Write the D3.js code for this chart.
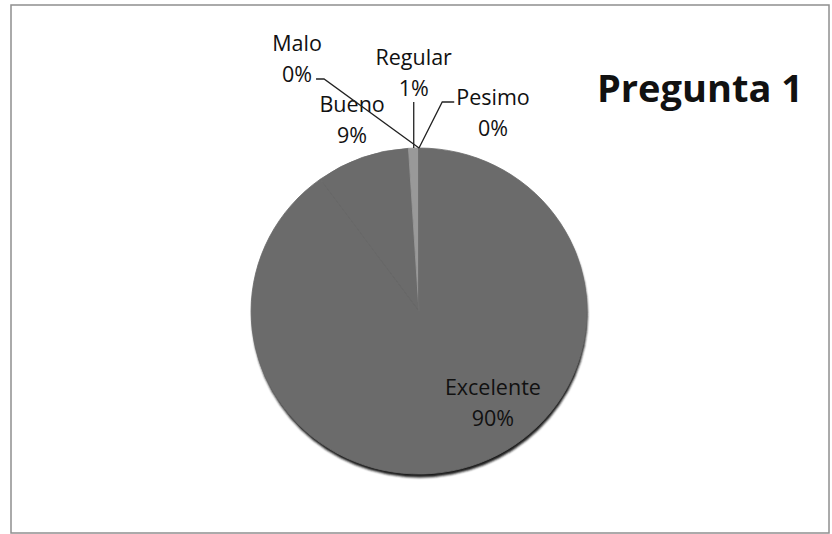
<!DOCTYPE html>
<html>
<head>
<meta charset="utf-8">
<script src="https://cdn.jsdelivr.net/npm/d3@7"></script>
<style>
  body { margin: 0; background: #fff; }
  svg text { font-family: "Open Sans", "Noto Sans", sans-serif; fill: #111; }
</style>
</head>
<body>
<div id="chart"></div>
<script>
// data
var categories = ["Excelente", "Bueno", "Regular", "Malo", "Pesimo"];
var percents = [90, 9, 1, 0, 0];
var sliceColors = ["#6b6b6b", "#6b6b6b", "#999999", "#6b6b6b", "#6b6b6b"];
var title = "Pregunta 1";

// label placement: offset from the slice's outer edge point, and leader style
var labelDx = [22, -10, 0, -122, 74];
var labelDy = [-63.5, -37.6, -75.5, -89.5, -35.5];
var leaderType = ["none", "none", "bottom", "right", "left"];

var W = 832, H = 534;
var cx = 419, cy = 311, radius = 163, stretch = 1.03;
var lineGap = 31;

var svg = d3.select("#chart").append("svg")
    .attr("width", W)
    .attr("height", H);

// chart frame
svg.append("rect")
   .attr("x", 11).attr("y", 5)
   .attr("width", 818).attr("height", 528)
   .attr("fill", "#fff")
   .attr("stroke", "#8f8f8f")
   .attr("stroke-width", 1.5);

var defs = svg.append("defs");
defs.append("filter").attr("id", "blur")
    .append("feGaussianBlur").attr("stdDeviation", 1);

var pie = d3.pie().sort(null).value(function(d){ return d; });
var arcs = pie(percents);
var arc = d3.arc().innerRadius(0).outerRadius(radius);

var g = svg.append("g")
    .attr("transform", "translate(" + cx + "," + cy + ") scale(" + stretch + ",1)");

// soft shadow under the pie
g.append("circle")
   .attr("cx", 0.8).attr("cy", 3.5)
   .attr("r", radius)
   .attr("fill", "#1a1a1a")
   .attr("filter", "url(#blur)");

// slices: same-colour stroke hides the seams between equal greys
g.selectAll("path.slice")
   .data(arcs)
   .enter().append("path")
   .attr("class", "slice")
   .attr("d", arc)
   .attr("fill", function(d, i){ return sliceColors[i]; })
   .attr("stroke", function(d, i){ return sliceColors[i]; })
   .attr("stroke-width", 0.8);

// outer edge point of a slice, in page coordinates
function edgePoint(d){
  var a = (d.startAngle + d.endAngle) / 2;
  return [cx + radius * stretch * Math.sin(a), cy - radius * Math.cos(a)];
}

var labels = svg.append("g");
arcs.forEach(function(d, i){
  var e = edgePoint(d);
  var lx = e[0] + labelDx[i], ly = e[1] + labelDy[i];
  var t = labels.append("text")
      .attr("text-anchor", "middle")
      .attr("font-size", 21.5);
  t.append("tspan").attr("x", lx).attr("y", ly - lineGap / 2).attr("dy", "0.35em")
      .text(categories[i]);
  t.append("tspan").attr("x", lx).attr("y", ly + lineGap / 2).attr("dy", "0.35em")
      .text(percents[i] + "%");

  var pts = null;
  if (leaderType[i] == "bottom") {
    pts = [[e[0], ly + lineGap / 2 + 14], e];
  } else if (leaderType[i] == "right") {
    var w2 = t.node().childNodes[1].getComputedTextLength();
    var sx = lx + w2 / 2 + 4, sy = ly + lineGap / 2 + 5;
    pts = [[sx, sy], [sx + 8, sy], e];
  } else if (leaderType[i] == "left") {
    var w1 = t.node().childNodes[0].getComputedTextLength();
    var sx2 = lx - w1 / 2 - 2, sy2 = ly - lineGap / 2 + 5;
    pts = [[sx2, sy2], [sx2 - 12, sy2], e];
  }
  if (pts) {
    svg.append("path")
       .attr("d", d3.line()(pts))
       .attr("fill", "none")
       .attr("stroke", "#222")
       .attr("stroke-width", 1.3);
  }
});

svg.append("text")
   .attr("x", 597).attr("y", 102)
   .attr("font-size", 38)
   .attr("font-weight", "bold")
   .attr("fill", "#111")
   .text(title);
</script>
</body>
</html>
